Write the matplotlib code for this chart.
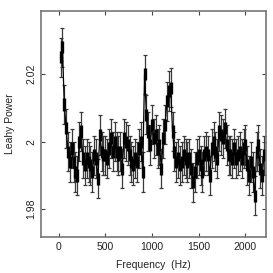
import matplotlib
matplotlib.use("Agg")
import matplotlib.pyplot as plt
import numpy as np

freq = [20, 40, 60, 80, 100, 120, 140, 160, 180, 200, 220, 240, 260, 280, 300, 320, 340, 360, 380, 400,
        420, 440, 460, 480, 500, 520, 540, 560, 580, 600, 620, 640, 660, 680, 700, 720, 740, 760, 780, 800,
        820, 840, 860, 880, 900, 920, 940, 960, 980, 1000, 1020, 1040, 1060, 1080, 1100, 1120, 1140, 1160, 1180, 1200,
        1220, 1240, 1260, 1280, 1300, 1320, 1340, 1360, 1380, 1400, 1420, 1440, 1460, 1480, 1500, 1520, 1540, 1560, 1580, 1600,
        1620, 1640, 1660, 1680, 1700, 1720, 1740, 1760, 1780, 1800, 1820, 1840, 1860, 1880, 1900, 1920, 1940, 1960, 1980, 2000,
        2020, 2040, 2060, 2080, 2100, 2120, 2140, 2160, 2180, 2200]
power = [2.025, 2.028, 2.011, 2.004, 1.997, 1.994, 1.998, 1.994, 1.991, 1.990, 2.000, 2.003, 1.995, 1.993, 1.995, 1.994, 1.993, 1.991, 1.996, 1.995,
         1.989, 2.002, 1.997, 1.996, 1.996, 1.995, 1.998, 2.001, 1.997, 2.000, 1.997, 1.996, 1.997, 1.992, 2.001, 2.000, 1.999, 1.996, 1.994, 1.993,
         1.995, 1.994, 1.998, 2.000, 1.991, 2.020, 2.008, 2.003, 1.999, 2.005, 2.001, 2.002, 1.998, 1.999, 1.992, 2.001, 2.005, 2.012, 2.015, 2.016,
         2.003, 1.997, 1.994, 1.995, 1.993, 1.994, 1.996, 1.995, 1.994, 1.995, 1.992, 1.988, 1.991, 1.995, 1.996, 1.993, 1.991, 1.996, 1.997, 1.996,
         1.990, 1.998, 2.000, 1.997, 1.995, 2.003, 2.002, 2.001, 2.004, 1.999, 1.996, 1.996, 1.995, 1.998, 1.995, 1.996, 1.997, 1.995, 1.998, 1.999,
         1.993, 1.990, 1.994, 1.991, 1.984, 1.997, 1.999, 1.992, 1.990, 1.996]
err = 0.0058
core = 0.0018

plt.rcParams['font.family'] = ['Liberation Sans', 'DejaVu Sans']
fig = plt.figure(figsize=(2.73, 2.73), dpi=100)
ax = fig.add_axes([0.150, 0.131, 0.824, 0.830])

ax.errorbar(freq, power, yerr=err, fmt='none', ecolor='#3a3a3a', elinewidth=0.9,
            capsize=1.5, capthick=0.9)
ax.errorbar(freq, power, yerr=core, fmt='none', ecolor='black', elinewidth=2.4, capsize=0)
ax.plot(freq, power, color='black', lw=0.9)

ax.set_xlim(-190, 2220)
ax.set_ylim(1.9717, 2.0388)
ax.set_xticks([0, 500, 1000, 1500, 2000])
ax.set_yticks([1.98, 2.0, 2.02])
ax.set_yticklabels(['1.98', '2', '2.02'], rotation=90, va='center')
ax.tick_params(direction='in', length=3, width=0.8, colors='#444444', labelsize=7.5,
               top=True, right=True, labelcolor='#222222')
for s in ax.spines.values():
    s.set_color('#777777')
    s.set_linewidth(1.2)
ax.set_xlabel('Frequency  (Hz)', fontsize=7.5, color='#222222', labelpad=6)
ax.set_ylabel('Leahy Power', fontsize=7.5, color='#222222', labelpad=8)

fig.savefig('out.png', dpi=100)
